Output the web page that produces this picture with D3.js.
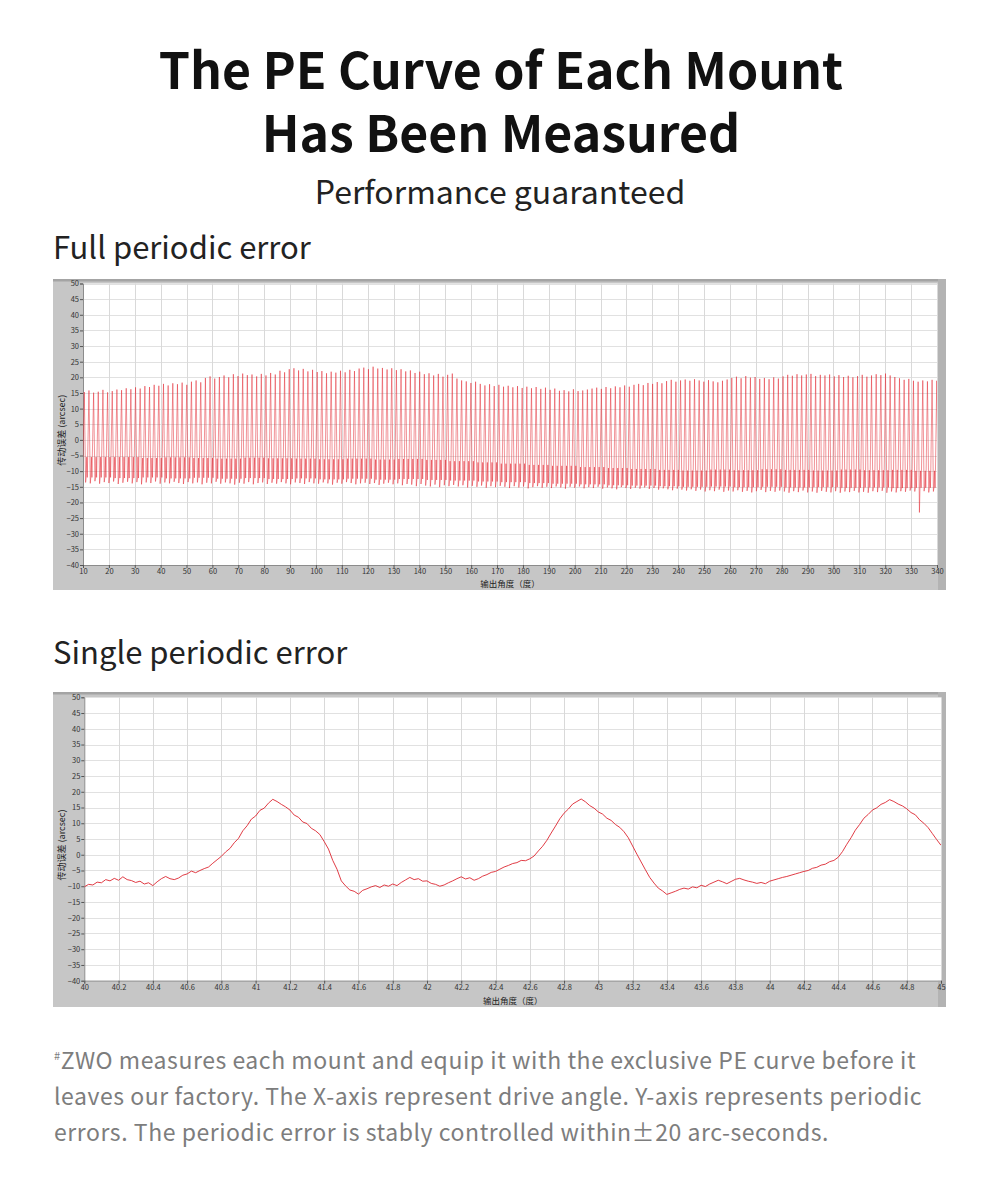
<!DOCTYPE html>
<html>
<head>
<meta charset="utf-8">
<script src="https://cdn.jsdelivr.net/npm/d3@7"></script>
<style>
  html, body { margin: 0; padding: 0; background: #fff; }
  svg { display: block; }
  text { font-family: "Noto Sans CJK SC", "Noto Sans", sans-serif; }
</style>
</head>
<body>
<svg id="page"></svg>
<script>

// ---- full periodic error: one entry per worm cycle (1.8 deg each)
const fullStart = 10;
const fullPeriod = 1.8;
const fullPeak = [
  15.3,15.8,15.1,15.4,16.0,15.2,15.6,16.1,15.9,16.5,
  16.2,16.8,16.4,17.2,16.9,17.6,17.3,17.9,17.4,18.1,
  17.8,18.3,17.6,18.6,19.0,18.4,19.8,20.3,19.6,20.1,
  20.6,20.0,21.0,20.4,21.2,20.7,20.9,20.3,21.1,20.6,
  21.4,20.9,22.1,21.6,22.6,22.9,22.2,22.7,21.9,22.4,
  21.7,22.0,21.3,21.8,21.5,22.1,21.6,22.4,22.0,22.8,
  23.1,22.6,23.4,22.8,23.0,22.5,22.9,22.3,22.6,21.9,
  22.2,21.4,21.8,21.0,21.3,20.6,21.1,20.2,20.8,21.2,
  19.6,19.0,18.7,18.2,18.6,17.9,17.4,17.8,17.2,17.6,
  17.0,17.3,16.8,17.2,16.6,17.0,16.5,16.9,16.3,16.7,
  16.0,16.4,15.7,15.9,15.5,16.2,15.6,15.8,16.1,16.4,
  16.7,16.3,16.9,16.5,17.1,16.8,17.4,17.0,17.6,17.9,
  17.5,18.2,17.9,18.5,18.1,18.8,19.2,18.6,19.0,19.3,
  18.9,19.4,19.0,18.6,19.1,18.7,18.4,18.9,19.3,19.8,
  20.2,19.7,20.4,19.9,20.1,19.5,19.8,19.4,20.0,19.6,
  20.3,20.8,20.5,21.0,20.6,20.9,21.1,20.4,20.8,20.6,
  20.9,20.3,20.7,20.1,20.5,20.0,20.4,20.8,20.2,20.6,
  21.0,20.7,21.2,20.6,20.1,19.7,19.2,19.5,18.9,18.6,
  19.0,18.7,19.2,18.9
];
const fullTrough = [
  -13.6,-13.9,-13.2,-14.0,-13.5,-13.8,-13.3,-14.1,-13.7,-13.4,
  -13.9,-13.5,-14.2,-13.6,-13.8,-13.3,-14.0,-13.6,-13.9,-13.4,
  -13.8,-14.1,-13.5,-13.9,-13.6,-14.2,-13.7,-13.9,-13.4,-14.0,
  -13.6,-13.9,-14.3,-13.7,-14.0,-13.5,-14.2,-13.8,-13.6,-14.1,
  -13.7,-14.0,-13.5,-13.9,-14.2,-13.6,-13.8,-14.1,-13.5,-13.9,
  -14.0,-13.6,-13.9,-14.3,-13.7,-14.0,-13.5,-13.8,-14.2,-13.9,
  -13.7,-14.1,-13.8,-14.4,-14.0,-13.7,-14.2,-13.9,-14.5,-14.1,
  -14.3,-14.8,-14.1,-14.6,-14.9,-14.3,-15.1,-14.5,-14.8,-14.4,
  -14.9,-14.5,-15.2,-14.7,-15.0,-14.6,-15.3,-14.8,-15.1,-14.7,
  -15.0,-15.4,-14.8,-15.2,-14.9,-15.5,-15.1,-14.8,-15.3,-15.0,
  -15.4,-14.9,-15.2,-15.6,-15.0,-15.3,-14.9,-15.5,-15.1,-15.4,
  -15.0,-15.6,-15.2,-15.5,-15.8,-15.1,-15.4,-15.7,-15.3,-15.6,
  -15.2,-15.7,-15.4,-15.9,-15.5,-15.8,-16.1,-15.6,-15.9,-16.2,
  -15.8,-16.3,-15.9,-16.5,-16.1,-16.4,-15.9,-16.6,-16.2,-16.5,
  -16.1,-16.6,-16.3,-16.8,-16.4,-16.0,-16.7,-16.3,-16.6,-16.2,
  -16.5,-16.9,-16.4,-16.7,-16.2,-16.8,-16.5,-16.9,-16.3,-16.6,
  -16.8,-16.4,-16.9,-16.5,-16.7,-16.3,-16.8,-16.6,-16.9,-16.4,
  -16.7,-16.3,-16.9,-16.5,-16.8,-16.4,-16.6,-16.2,-16.5,-23.2,
  -16.4,-16.8,-16.5,-16.7
];
// dense low band where the curve dwells, one pair per 10 deg
const fullDwellHi = [
  -5.5,-5.5,-5.8,-5.6,-5.8,-6.0,-5.7,-5.9,-6.0,-6.2,
  -6.0,-6.3,-6.1,-6.4,-6.8,-7.2,-7.6,-8.0,-8.3,-8.7,
  -9.0,-9.3,-9.6,-9.8,-9.5,-9.7,-9.4,-9.6,-9.8,-9.5,
  -9.7,-9.6,-9.9
];
const fullDwellLo = [
  -12.0,-12.2,-12.0,-12.3,-12.1,-12.4,-12.2,-12.5,-12.3,-12.6,
  -12.4,-12.7,-12.5,-12.8,-13.0,-13.3,-13.5,-13.8,-14.0,-14.2,
  -14.5,-14.6,-14.8,-15.0,-14.9,-15.1,-15.0,-15.2,-15.1,-15.3,
  -15.2,-15.4,-15.3
];
const fullXTicks = [10,20,30,40,50,60,70,80,90,100,110,120,130,140,150,160,170,180,
  190,200,210,220,230,240,250,260,270,280,290,300,310,320,330,340];

// ---- single periodic error: samples every 0.025 deg from 40 to 45
const singleStart = 40;
const singleStep = 0.025;
const singleError = [
  -10.2,-9.4,-9.6,-8.7,-8.9,-7.9,-8.3,-7.5,-8.1,-7.0,-7.9,-8.2,-8.8,-8.4,-9.3,-8.9,-9.8,-8.6,-7.6,-6.9,
  -7.6,-7.9,-7.4,-6.5,-6.1,-5.2,-5.7,-5.0,-4.4,-3.9,-2.7,-1.6,-0.5,0.9,2.0,3.8,5.2,7.6,9.2,11.3,
  12.3,14.1,14.8,16.4,17.6,16.9,16.0,15.2,14.2,12.6,11.9,10.4,9.9,8.4,7.6,6.4,4.2,1.8,-1.8,-4.6,
  -8.3,-9.9,-11.2,-11.6,-12.5,-11.3,-10.8,-10.2,-9.8,-10.4,-9.6,-10.0,-9.3,-9.8,-8.8,-8.0,-7.2,-7.9,-7.6,-8.4,
  -8.3,-9.1,-9.4,-10.0,-9.6,-8.9,-8.3,-7.6,-7.0,-7.7,-7.3,-8.1,-7.6,-6.8,-6.3,-5.6,-5.3,-4.6,-3.9,-3.4,
  -2.8,-2.5,-1.8,-1.9,-1.3,-0.4,1.2,2.7,4.6,6.9,9.1,11.4,13.2,14.5,16.1,16.9,17.7,16.8,15.6,14.8,
  13.6,12.9,11.6,10.9,9.6,8.7,7.3,5.4,2.8,0.2,-2.3,-4.8,-7.2,-9.0,-10.6,-11.5,-12.6,-12.1,-11.6,-11.0,
  -10.6,-10.9,-10.2,-10.5,-9.7,-10.1,-9.3,-8.7,-8.1,-8.6,-9.2,-8.5,-7.8,-7.5,-8.0,-8.4,-8.7,-9.1,-8.8,-9.2,
  -8.4,-8.0,-7.6,-7.2,-6.9,-6.5,-6.1,-5.7,-5.3,-5.0,-4.3,-4.0,-3.3,-3.0,-2.2,-1.8,-0.8,1.0,3.3,5.4,
  7.8,9.6,11.6,12.8,14.2,14.9,16.0,16.6,17.5,16.9,16.1,15.5,14.6,13.4,12.7,11.1,10.0,8.6,6.7,4.8,
  3.0
];
const singleXTicks = [40,40.2,40.4,40.6,40.8,41,41.2,41.4,41.6,41.8,42,42.2,42.4,42.6,42.8,
  43,43.2,43.4,43.6,43.8,44,44.2,44.4,44.6,44.8,45];
const yTicks = [-40,-35,-30,-25,-20,-15,-10,-5,0,5,10,15,20,25,30,35,40,45,50];

const W = 1000, H = 1193;
const svg = d3.select("#page").attr("width", W).attr("height", H).attr("viewBox", [0, 0, W, H]);
svg.append("rect").attr("width", W).attr("height", H).attr("fill", "#fff");

// headings
svg.append("text").attr("x", 501).attr("y", 89).attr("text-anchor", "middle")
  .attr("font-size", 50).attr("font-weight", 700).attr("fill", "#111")
  .text("The PE Curve of Each Mount");
svg.append("text").attr("x", 501).attr("y", 152).attr("text-anchor", "middle")
  .attr("font-size", 50).attr("font-weight", 700).attr("fill", "#111")
  .text("Has Been Measured");
svg.append("text").attr("x", 500).attr("y", 204).attr("text-anchor", "middle")
  .attr("font-size", 32).attr("fill", "#222")
  .text("Performance guaranteed");
svg.append("text").attr("x", 53).attr("y", 259)
  .attr("font-size", 31).attr("fill", "#222").text("Full periodic error");
svg.append("text").attr("x", 53).attr("y", 664)
  .attr("font-size", 31).attr("fill", "#222").text("Single periodic error");

// footnote
const note = svg.append("g").attr("fill", "#7d7d7d").attr("font-size", 23).attr("letter-spacing", 0.55);
const l1 = note.append("text").attr("x", 54).attr("y", 1069);
l1.append("tspan").attr("font-size", 11).attr("dy", -9).text("#");
l1.append("tspan").attr("dy", 9).text("ZWO measures each mount and equip it with the exclusive PE curve before it");
note.append("text").attr("x", 54).attr("y", 1105)
  .text("leaves our factory. The X-axis represent drive angle. Y-axis represents periodic");
note.append("text").attr("x", 54).attr("y", 1141)
  .text("errors. The periodic error is stably controlled within\u00b120 arc-seconds.");

// one LabVIEW style graph panel
function panel(frame, plot, xDomain, xTicks, fmt) {
  const g = svg.append("g");
  g.append("rect").attr("x", frame.x).attr("y", frame.y).attr("width", frame.w).attr("height", frame.h)
    .attr("fill", "#c6c6c6");
  g.append("rect").attr("x", frame.x).attr("y", frame.y).attr("width", frame.w).attr("height", 2.5)
    .attr("fill", "#a4a4a4");
  g.append("rect").attr("x", frame.x + frame.w - 8).attr("y", frame.y).attr("width", 8).attr("height", frame.h)
    .attr("fill", "#b3b3b3");

  const x = d3.scaleLinear().domain(xDomain).range([plot.x0, plot.x1]);
  const y = d3.scaleLinear().domain([-40, 50]).range([plot.y1, plot.y0]);

  g.append("rect").attr("x", plot.x0).attr("y", plot.y0)
    .attr("width", plot.x1 - plot.x0).attr("height", plot.y1 - plot.y0).attr("fill", "#fff");

  g.append("g").selectAll("line").data(yTicks).join("line")
    .attr("x1", plot.x0).attr("x2", plot.x1)
    .attr("y1", d => Math.round(y(d)) + 0.5).attr("y2", d => Math.round(y(d)) + 0.5)
    .attr("stroke", "#e1e1e1");
  g.append("g").selectAll("line").data(xTicks).join("line")
    .attr("x1", d => Math.round(x(d)) + 0.5).attr("x2", d => Math.round(x(d)) + 0.5)
    .attr("y1", plot.y0).attr("y2", plot.y1)
    .attr("stroke", "#d9d9d9");

  const yAxis = g.append("g").attr("transform", `translate(${plot.x0},0)`)
    .call(d3.axisLeft(y).tickValues(yTicks).tickSize(3).tickPadding(1));
  const xAxis = g.append("g").attr("transform", `translate(0,${plot.y1})`)
    .call(d3.axisBottom(x).tickValues(xTicks).tickSize(3).tickPadding(1).tickFormat(fmt));
  [yAxis, xAxis].forEach(a => {
    a.select(".domain").attr("stroke", "#8c8c8c");
    a.selectAll(".tick line").attr("stroke", "#555");
    a.selectAll("text").attr("font-size", 7.5).attr("fill", "#333")
      .attr("font-family", "'Noto Sans', sans-serif");
  });

  g.append("text").attr("transform", `translate(${frame.x + 12},${(plot.y0 + plot.y1) / 2 + 6}) rotate(-90)`)
    .attr("text-anchor", "middle").attr("font-size", 9).attr("fill", "#222")
    .text("传动误差 (arcsec)");
  g.append("text").attr("x", (plot.x0 + plot.x1) / 2).attr("y", frame.y + frame.h - 3)
    .attr("text-anchor", "middle").attr("font-size", 8.5).attr("fill", "#222")
    .text("输出角度（度）");

  const clipId = "clip" + Math.round(plot.y0);
  g.append("clipPath").attr("id", clipId).append("rect")
    .attr("x", plot.x0).attr("y", plot.y0).attr("width", plot.x1 - plot.x0).attr("height", plot.y1 - plot.y0);
  return { g, x, y, clip: `url(#${clipId})` };
}

// full periodic error graph
const full = panel({ x: 53, y: 279, w: 893, h: 311 }, { x0: 83, x1: 937, y0: 283.5, y1: 565 },
  [10, 340], fullXTicks, d3.format("d"));

const fullPoints = [];
fullPeak.forEach((pk, i) => {
  const a0 = fullStart + i * fullPeriod;
  const b = Math.min(fullDwellHi.length - 1, Math.floor(i * fullPeriod / 10));
  const hi = fullDwellHi[b], lo = fullDwellLo[b];
  fullPoints.push([a0, hi]);
  fullPoints.push([a0 + 0.28 * fullPeriod, pk]);
  fullPoints.push([a0 + 0.56 * fullPeriod, fullTrough[i]]);
  [0.68, 0.80, 0.92].forEach((p, k) => {
    fullPoints.push([a0 + p * fullPeriod, k % 2 ? hi : lo]);
  });
});
full.g.append("path").datum(fullPoints)
  .attr("clip-path", full.clip)
  .attr("fill", "none").attr("stroke", "#e2222c").attr("stroke-width", 0.55).attr("stroke-opacity", 0.9)
  .attr("d", d3.line().x(d => full.x(d[0])).y(d => full.y(d[1])));

// single periodic error graph
const single = panel({ x: 53, y: 692, w: 893, h: 315 }, { x0: 84.3, x1: 941, y0: 697.3, y1: 980.7 },
  [40, 45], singleXTicks, d => String(+d.toFixed(1)));

single.g.append("path").datum(singleError)
  .attr("clip-path", single.clip)
  .attr("fill", "none").attr("stroke", "#dd2630").attr("stroke-width", 0.9)
  .attr("d", d3.line().x((d, i) => single.x(singleStart + i * singleStep)).y(d => single.y(d)));

</script>
</body>
</html>
